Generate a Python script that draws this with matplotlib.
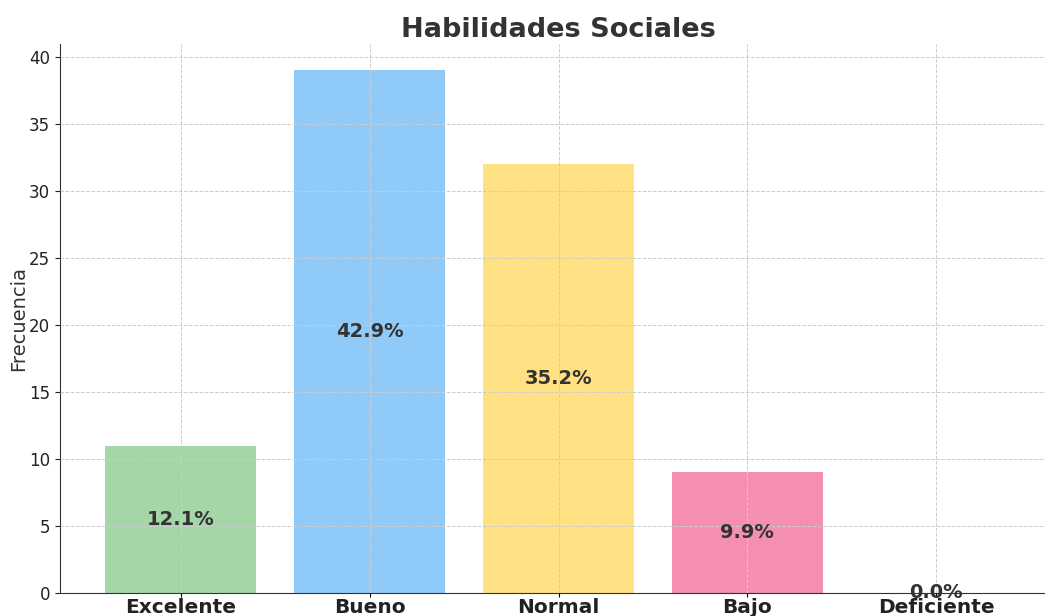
import matplotlib.pyplot as plt

categorias = ['Excelente', 'Bueno', 'Normal', 'Bajo', 'Deficiente']
frecuencias = [11, 39, 32, 9, 0]
colores = ['#a5d6a7', '#90caf9', '#ffe082', '#f48fb1', '#ce93d8']


def main():
    total = sum(frecuencias)
    fig = plt.figure(figsize=(10.45, 6.16), dpi=100)
    ax = fig.add_axes([60 / 1045, 23 / 616, 997 / 1045, 549 / 616])
    x = range(len(categorias))
    bars = ax.bar(x, frecuencias, color=colores, width=0.8, zorder=1)
    for bar, f in zip(bars, frecuencias):
        pct = f / total * 100
        ax.text(bar.get_x() + bar.get_width() / 2, f / 2, f'{pct:.1f}%',
                ha='center', va='center', fontsize=14, fontweight='bold',
                color='#333333', zorder=3)
    ax.set_xticks(list(x))
    ax.set_xticklabels(categorias, fontsize=14.5, fontweight='bold', color='#222222')
    ax.tick_params(axis='x', length=3, pad=0.5)
    ax.tick_params(axis='y', labelsize=12, colors='#222222')
    ax.set_ylabel('Frecuencia', fontsize=14, color='#333333', labelpad=1)
    ax.set_title('Habilidades Sociales', fontsize=19.5, fontweight='bold',
                 color='#333333', pad=5)
    ax.grid(True, linestyle='--', color='#cccccc', linewidth=0.7, zorder=2)
    ax.set_axisbelow(False)
    ax.spines['top'].set_visible(False)
    ax.spines['right'].set_visible(False)
    ax.spines['left'].set_color('#333333')
    ax.spines['bottom'].set_color('#333333')
    fig.savefig('out.png', dpi=100)


if __name__ == "__main__":
    main()
